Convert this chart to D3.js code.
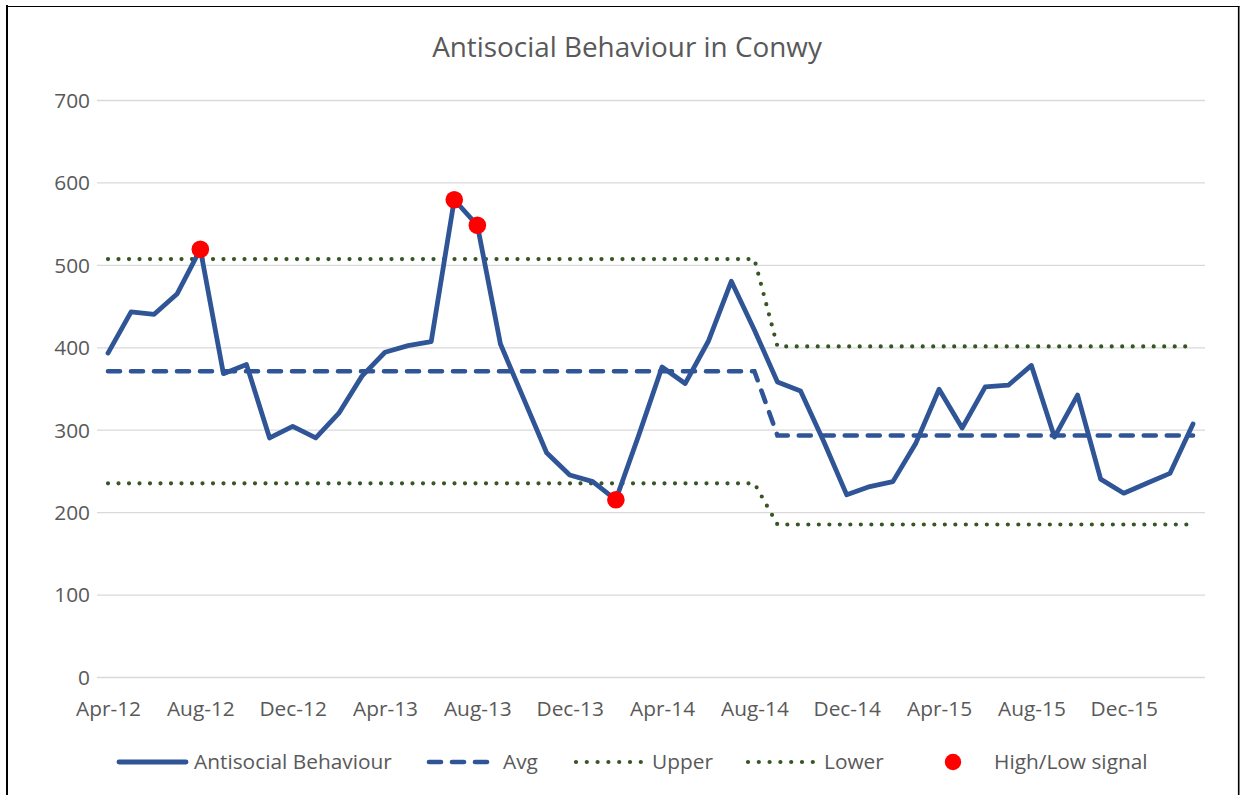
<!DOCTYPE html>
<html>
<head>
<meta charset="utf-8">
<script src="https://cdn.jsdelivr.net/npm/d3@7"></script>
<style>
  html, body { margin: 0; padding: 0; background: #fff; }
  svg { display: block; }
  text { font-family: "Open Sans", "Noto Sans", sans-serif; fill: #595959; }
</style>
</head>
<body>
<svg id="chart" width="1240" height="795"></svg>
<script>
const months = ["Apr-12","May-12","Jun-12","Jul-12","Aug-12","Sep-12","Oct-12","Nov-12","Dec-12","Jan-13","Feb-13","Mar-13",
  "Apr-13","May-13","Jun-13","Jul-13","Aug-13","Sep-13","Oct-13","Nov-13","Dec-13","Jan-14","Feb-14","Mar-14",
  "Apr-14","May-14","Jun-14","Jul-14","Aug-14","Sep-14","Oct-14","Nov-14","Dec-14","Jan-15","Feb-15","Mar-15",
  "Apr-15","May-15","Jun-15","Jul-15","Aug-15","Sep-15","Oct-15","Nov-15","Dec-15","Jan-16","Feb-16","Mar-16"];
const asb = [393,443,440,465,519,368,379,290,304,290,320,365,394,402,407,579,548,404,338,272,245,237,215,294,
  376,356,407,480,421,358,347,286,221,231,237,284,349,302,352,354,378,291,342,240,223,235,247,307];
const avg = [371,371,371,371,371,371,371,371,371,371,371,371,371,371,371,371,371,371,371,371,371,371,371,371,
  371,371,371,371,371,293,293,293,293,293,293,293,293,293,293,293,293,293,293,293,293,293,293,293];
const upper = [507,507,507,507,507,507,507,507,507,507,507,507,507,507,507,507,507,507,507,507,507,507,507,507,
  507,507,507,507,507,401,401,401,401,401,401,401,401,401,401,401,401,401,401,401,401,401,401,401];
const lower = [235,235,235,235,235,235,235,235,235,235,235,235,235,235,235,235,235,235,235,235,235,235,235,235,
  235,235,235,235,235,185,185,185,185,185,185,185,185,185,185,185,185,185,185,185,185,185,185,185];
const signalMonths = ["Aug-12","Jul-13","Aug-13","Feb-14"];
const xTickLabels = ["Apr-12","Aug-12","Dec-12","Apr-13","Aug-13","Dec-13","Apr-14","Aug-14","Dec-14","Apr-15","Aug-15","Dec-15"];
const yTicks = [0,100,200,300,400,500,600,700];
const legendNames = ["Antisocial Behaviour","Avg","Upper","Lower","High/Low signal"];

const BLUE = "#2F5597", GREEN = "#375623", RED = "#FF0000", GRID = "#D9D9D9";

const svg = d3.select("#chart");

// outer border (left, top, right)
svg.append("line").attr("x1",7).attr("x2",7).attr("y1",5).attr("y2",795).attr("stroke","#000").attr("stroke-width",2);
svg.append("line").attr("x1",6).attr("x2",1239.5).attr("y1",6.5).attr("y2",6.5).attr("stroke","#000").attr("stroke-width",1.2);
svg.append("line").attr("x1",1238.7).attr("x2",1238.7).attr("y1",6).attr("y2",795).attr("stroke","#000").attr("stroke-width",1.6);

const x = d3.scalePoint().domain(months).range([108, 1193]);
const y = d3.scaleLinear().domain([0, 700]).range([677, 100]);

function fit(sel, target) {
  const w = sel.node().getComputedTextLength();
  const fs = parseFloat(sel.attr("font-size"));
  sel.attr("font-size", fs * target / w);
  return fs * target / w;
}

// title
const title = svg.append("text").attr("x", 627).attr("y", 57).attr("text-anchor","middle")
  .attr("font-size", 24).text("Antisocial Behaviour in Conwy");
fit(title, 390);

// calibrate label size
const probe = svg.append("text").attr("font-size", 18).text(legendNames[0]);
const labelSize = fit(probe, 198);
probe.remove();

// gridlines
const grid = svg.append("g");
grid.selectAll("line").data(yTicks).join("line")
  .attr("x1", 97).attr("x2", 1205)
  .attr("y1", d => y(d) + 0.5).attr("y2", d => y(d) + 0.5)
  .attr("stroke", GRID).attr("stroke-width", 1.3);

// y axis labels
const yAxis = d3.axisLeft(y).tickValues(yTicks).tickSize(0).tickPadding(0);
const gy = svg.append("g").attr("transform", "translate(90,0)").call(yAxis);
gy.select(".domain").remove();
gy.selectAll("text").attr("font-size", labelSize).attr("font-family", null).attr("fill", "#595959").attr("dy", "0.35em");

// x axis labels
const xAxis = d3.axisBottom(x).tickValues(xTickLabels).tickSize(0).tickPadding(0);
const gx = svg.append("g").attr("transform", "translate(0,709)").call(xAxis);
gx.select(".domain").remove();
gx.selectAll("text").attr("font-size", labelSize).attr("font-family", null).attr("fill", "#595959").attr("dy", "0.35em");

const lineGen = arr => d3.line().x((d, i) => x(months[i])).y(d => y(d))(arr);

// limits
svg.append("path").attr("d", lineGen(upper)).attr("fill","none").attr("stroke",GREEN)
  .attr("stroke-width",4.2).attr("stroke-linecap","round").attr("stroke-dasharray","0 10.5");
svg.append("path").attr("d", lineGen(lower)).attr("fill","none").attr("stroke",GREEN)
  .attr("stroke-width",4.2).attr("stroke-linecap","round").attr("stroke-dasharray","0 10.5");
// avg
svg.append("path").attr("d", lineGen(avg)).attr("fill","none").attr("stroke",BLUE)
  .attr("stroke-width",4.6).attr("stroke-linecap","round").attr("stroke-dasharray","12 11");
// main series
svg.append("path").attr("d", lineGen(asb)).attr("fill","none").attr("stroke",BLUE)
  .attr("stroke-width",4.8).attr("stroke-linejoin","round").attr("stroke-linecap","round");
// signals
svg.append("g").selectAll("circle").data(signalMonths).join("circle")
  .attr("cx", d => x(d)).attr("cy", d => y(asb[months.indexOf(d)]))
  .attr("r", 8.8).attr("fill", RED);

// legend
const legendX = [117, 426, 575, 747, 917];
const ly = 762;
const lg = svg.append("g");
legendNames.forEach((name, i) => {
  const x0 = legendX[i];
  if (i === 0) {
    lg.append("line").attr("x1", x0 + 2).attr("x2", x0 + 69).attr("y1", ly).attr("y2", ly)
      .attr("stroke", BLUE).attr("stroke-width", 4.8).attr("stroke-linecap","round");
  } else if (i === 1) {
    lg.append("line").attr("x1", x0 + 3).attr("x2", x0 + 68).attr("y1", ly).attr("y2", ly)
      .attr("stroke", BLUE).attr("stroke-width", 4.6).attr("stroke-linecap","round").attr("stroke-dasharray","12 11");
  } else if (i === 2 || i === 3) {
    lg.append("line").attr("x1", x0 + 1).attr("x2", x0 + 68).attr("y1", ly).attr("y2", ly)
      .attr("stroke", GREEN).attr("stroke-width", 4.2).attr("stroke-linecap","round").attr("stroke-dasharray","0 10.8");
  } else {
    lg.append("circle").attr("cx", x0 + 36).attr("cy", ly).attr("r", 8.2).attr("fill", RED);
  }
  lg.append("text").attr("x", x0 + 77).attr("y", ly).attr("dy","0.35em")
    .attr("font-size", labelSize).text(name);
});
</script>
</body>
</html>
